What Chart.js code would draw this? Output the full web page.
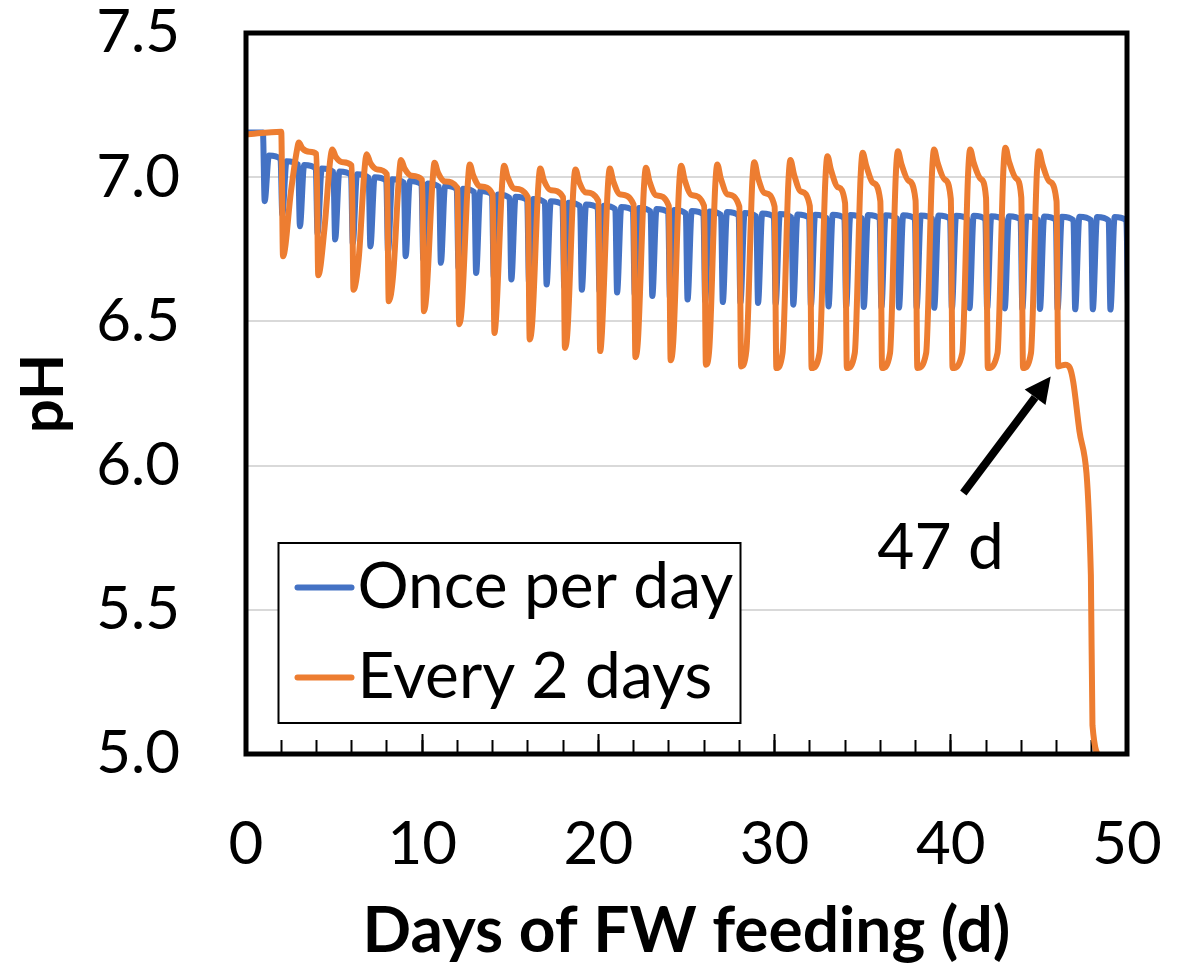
<!DOCTYPE html>
<html>
<head>
<meta charset="utf-8">
<script src="https://cdn.jsdelivr.net/npm/chart.js@4.4.0/dist/chart.umd.min.js"></script>
<style>
  html, body { margin: 0; padding: 0; background: #fff; }
  #wrap { width: 1186px; height: 970px; }
</style>
</head>
<body>
<div id="wrap"><canvas id="phChart" width="1186" height="970"></canvas></div>
<script>
// fed once per day: pH just before each feed, the dip after it, and the recovered top
const onceDays = [1, 2, 3, 4, 5, 6, 7, 8, 9, 10, 11, 12, 13, 14, 15, 16, 17, 18, 19, 20,
  21, 22, 23, 24, 25, 26, 27, 28, 29, 30, 31, 32, 33, 34, 35, 36, 37, 38, 39, 40,
  41, 42, 43, 44, 45, 46, 47, 48, 49, 50];
const oncePre = [7.155, 7.063, 7.043, 7.030, 7.018, 7.008, 6.998, 6.988, 6.981, 6.975,
  6.966, 6.958, 6.948, 6.940, 6.928, 6.920, 6.912, 6.905, 6.899, 6.893,
  6.889, 6.885, 6.881, 6.878, 6.874, 6.871, 6.869, 6.867, 6.864, 6.862,
  6.860, 6.859, 6.858, 6.858, 6.857, 6.857, 6.856, 6.856, 6.855, 6.855,
  6.854, 6.854, 6.853, 6.853, 6.852, 6.852, 6.851, 6.851, 6.850, 6.850];
const onceDip = [6.917, 6.870, 6.830, 6.805, 6.784, 6.770, 6.760, 6.742, 6.726, 6.715,
  6.703, 6.685, 6.668, 6.655, 6.645, 6.636, 6.628, 6.620, 6.610, 6.605,
  6.600, 6.594, 6.588, 6.582, 6.576, 6.571, 6.567, 6.565, 6.564, 6.561,
  6.558, 6.556, 6.552, 6.551, 6.550, 6.549, 6.548, 6.548, 6.547, 6.546,
  6.546, 6.545, 6.545, 6.544, 6.543, 6.543, 6.542, 6.542, 6.541, 6.550];
const onceTop = [7.075, 7.055, 7.042, 7.030, 7.020, 7.010, 7.000, 6.993, 6.987, 6.978,
  6.970, 6.960, 6.952, 6.940, 6.932, 6.924, 6.917, 6.911, 6.905, 6.901,
  6.897, 6.893, 6.890, 6.886, 6.883, 6.881, 6.879, 6.876, 6.874, 6.872,
  6.871, 6.870, 6.870, 6.869, 6.869, 6.868, 6.868, 6.867, 6.867, 6.866,
  6.866, 6.865, 6.865, 6.864, 6.864, 6.863, 6.863, 6.862, 6.862];

// fed every 2 days
const everyStart = 7.148;
const everyFeedDays = [2, 4, 6, 8, 10, 12, 14, 16, 18, 20, 22, 24, 26, 28, 30, 32, 34, 36, 38, 40, 42, 44, 46];
const everyPre = [7.158, 7.080, 7.040, 7.010, 6.990, 6.963, 6.940, 6.930, 6.930, 6.917, 6.905, 6.900,
  6.900, 6.898, 6.898, 6.900, 6.910, 6.917, 6.920, 6.925, 6.928, 6.930, 6.917];
const everyMin = [6.726, 6.660, 6.610, 6.570, 6.535, 6.490, 6.460, 6.437, 6.408, 6.397, 6.376, 6.365,
  6.350, 6.344, 6.338, 6.338, 6.338, 6.338, 6.338, 6.338, 6.338, 6.338, 6.344];
const everyPeakDay = [3.0, 4.9, 6.85, 8.8, 10.7, 12.7, 14.65, 16.7, 18.7, 20.65, 22.7, 24.7,
  26.75, 28.85, 30.9, 33.0, 35.0, 37.0, 39.05, 41.1, 43.1, 45.0];
// pH on the way up (0.45 d and 0.12 d before each peak)
const everyRiseLow = [6.950, 6.820, 6.720, 6.660, 6.600, 6.550, 6.520, 6.500, 6.470, 6.460, 6.440, 6.430,
  6.410, 6.400, 6.390, 6.390, 6.390, 6.390, 6.390, 6.390, 6.390, 6.390];
const everyRise = [7.090, 7.060, 7.030, 7.000, 6.980, 6.970, 6.970, 6.960, 6.960, 6.960, 6.960, 6.970,
  6.970, 6.980, 6.980, 6.990, 7.000, 7.010, 7.010, 7.010, 7.020, 7.010];
const everyPeak = [7.120, 7.096, 7.080, 7.060, 7.050, 7.044, 7.040, 7.030, 7.027, 7.030, 7.033, 7.040,
  7.044, 7.052, 7.060, 7.073, 7.085, 7.090, 7.096, 7.096, 7.102, 7.090];
// pH on the way down (0.2 d and 0.6 d after each peak)
const everyDecayA = [7.100, 7.070, 7.050, 7.030, 7.015, 7.005, 7.000, 6.990, 6.985, 6.985, 6.985, 6.990,
  6.995, 7.000, 7.010, 7.025, 7.040, 7.045, 7.050, 7.050, 7.055, 7.045];
const everyDecayB = [7.088, 7.052, 7.027, 7.005, 6.985, 6.968, 6.960, 6.955, 6.947, 6.940, 6.937, 6.938,
  6.940, 6.945, 6.950, 6.965, 6.980, 6.988, 6.992, 6.994, 6.996, 6.985];
// after the last feed the digester no longer recovers
const everyTailDays = [46.5, 46.75, 46.95, 47.3, 47.95, 48.04, 48.5];
const everyTailPH = [6.350, 6.340, 6.290, 6.120, 5.620, 5.100, 4.990];

const xTicksMajor = 10;
const xTicksMinor = 2;
const yTickStep = 0.5;

const noteText = '47 d';
const noteAt = [39.42, 5.712];
const arrowFrom = [40.71, 5.905];
const arrowTo = [45.67, 6.309];

const onceColor = '#4472C4';
const everyColor = '#ED7D31';
const fontFamily = 'Lato, "Open Sans", sans-serif';

// build the line points
const oncePoints = [{ x: 0, y: oncePre[0] }];
onceDays.forEach((d, i) => {
  oncePoints.push({ x: d - 0.04, y: oncePre[i] });
  oncePoints.push({ x: d + 0.06, y: onceDip[i] });
  if (i < onceTop.length) oncePoints.push({ x: d + 0.3, y: onceTop[i] });
});

const everyPoints = [{ x: 0, y: everyStart }];
everyFeedDays.forEach((d, i) => {
  everyPoints.push({ x: d, y: everyPre[i] });
  everyPoints.push({ x: d + 0.1, y: everyMin[i] });
  if (i < everyPeak.length) {
    const p = everyPeakDay[i];
    everyPoints.push({ x: p - 0.45, y: everyRiseLow[i] });
    everyPoints.push({ x: p - 0.12, y: everyRise[i] });
    everyPoints.push({ x: p, y: everyPeak[i] });
    everyPoints.push({ x: p + 0.2, y: everyDecayA[i] });
    everyPoints.push({ x: p + 0.6, y: everyDecayB[i] });
  }
});
everyTailDays.forEach((d, i) => everyPoints.push({ x: d, y: everyTailPH[i] }));

// black box round the plot area
const frame = {
  id: 'frame',
  afterDatasetsDraw(chart) {
    const { ctx, chartArea: a } = chart;
    ctx.save();
    ctx.lineWidth = 5;
    ctx.strokeStyle = '#000';
    ctx.strokeRect(a.left, a.top, a.right - a.left, a.bottom - a.top);
    ctx.restore();
  }
};

// arrow and day label at the failure point
const arrowNote = {
  id: 'arrowNote',
  afterDatasetsDraw(chart) {
    const { ctx, scales: { x, y } } = chart;
    const x0 = x.getPixelForValue(arrowFrom[0]), y0 = y.getPixelForValue(arrowFrom[1]);
    const x1 = x.getPixelForValue(arrowTo[0]), y1 = y.getPixelForValue(arrowTo[1]);
    const ang = Math.atan2(y1 - y0, x1 - x0);
    const headLen = 26, headHalf = 13;
    const bx = x1 - headLen * Math.cos(ang), by = y1 - headLen * Math.sin(ang);
    ctx.save();
    ctx.strokeStyle = '#000';
    ctx.fillStyle = '#000';
    ctx.lineWidth = 8;
    ctx.beginPath();
    ctx.moveTo(x0, y0);
    ctx.lineTo(bx, by);
    ctx.stroke();
    ctx.beginPath();
    ctx.moveTo(x1, y1);
    ctx.lineTo(bx + headHalf * Math.sin(ang), by - headHalf * Math.cos(ang));
    ctx.lineTo(bx - headHalf * Math.sin(ang), by + headHalf * Math.cos(ang));
    ctx.closePath();
    ctx.fill();
    ctx.font = '64px ' + fontFamily;
    ctx.textAlign = 'center';
    ctx.textBaseline = 'middle';
    ctx.fillText(noteText, x.getPixelForValue(noteAt[0]), y.getPixelForValue(noteAt[1]));
    ctx.restore();
  }
};

// boxed legend sitting in the lower left of the plot
const boxLegend = {
  id: 'boxLegend',
  afterDraw(chart) {
    const { ctx, chartArea: a } = chart;
    const left = a.left + 32.5, top = a.bottom - 211, w = 462, h = 180;
    ctx.save();
    ctx.fillStyle = '#fff';
    ctx.fillRect(left, top, w, h);
    ctx.lineWidth = 2;
    ctx.strokeStyle = '#000';
    ctx.strokeRect(left, top, w, h);
    ctx.font = '64px ' + fontFamily;
    ctx.textBaseline = 'middle';
    ctx.textAlign = 'left';
    chart.data.datasets.forEach((ds, i) => {
      const ly = top + 44.5 + i * 90;
      ctx.strokeStyle = ds.borderColor;
      ctx.lineWidth = 6;
      ctx.lineCap = 'round';
      ctx.beginPath();
      ctx.moveTo(left + 19, ly);
      ctx.lineTo(left + 73, ly);
      ctx.stroke();
      ctx.fillStyle = '#000';
      ctx.fillText(ds.label, left + 79, ly);
    });
    ctx.restore();
  }
};

const lineStyle = {
  borderWidth: 6,
  pointRadius: 0,
  fill: false,
  cubicInterpolationMode: 'monotone',
  borderJoinStyle: 'round',
  borderCapStyle: 'round',
  xAxisID: 'x',
  yAxisID: 'y'
};

// keep the plot box fixed: no extra room for half-labels at the ends
function fixHorizontal(h) {
  return scale => {
    scale.height = h;
    scale.paddingLeft = 0;
    scale.paddingRight = 0;
  };
}

const ctx = document.getElementById('phChart').getContext('2d');
const phChart = new Chart(ctx, {
  type: 'line',
  data: {
    datasets: [
      Object.assign({ label: 'Once per day', data: oncePoints, borderColor: onceColor, order: 2 }, lineStyle),
      Object.assign({ label: 'Every 2 days', data: everyPoints, borderColor: everyColor, order: 1 }, lineStyle)
    ]
  },
  options: {
    responsive: false,
    animation: false,
    layout: { padding: { top: 33, right: 59, left: 0, bottom: 0 } },
    plugins: { legend: { display: false }, tooltip: { enabled: false } },
    scales: {
      x: {
        type: 'linear',
        position: 'bottom',
        weight: 1,
        min: 0,
        max: 50,
        ticks: { stepSize: xTicksMajor, color: '#000', padding: 75, maxRotation: 0,
          font: { family: fontFamily, size: 60 } },
        grid: { drawOnChartArea: false, drawTicks: true, tickLength: -20, tickWidth: 2, tickColor: '#000' },
        border: { display: false },
        title: { display: true, text: 'Days of FW feeding (d)', color: '#000',
          font: { family: fontFamily, size: 64, weight: 'bold' }, padding: { top: 0, bottom: 0 } },
        afterFit: fixHorizontal(216)
      },
      xMinor: {
        type: 'linear',
        position: 'bottom',
        weight: 0,
        min: 0,
        max: 50,
        ticks: { stepSize: xTicksMinor, display: false },
        grid: { drawOnChartArea: false, drawTicks: true, tickLength: -14, tickWidth: 2, tickColor: '#000' },
        border: { display: false },
        afterFit: fixHorizontal(0)
      },
      y: {
        type: 'linear',
        min: 5,
        max: 7.5,
        ticks: { stepSize: yTickStep, color: '#000', padding: 66,
          font: { family: fontFamily, size: 60 },
          callback: v => v.toFixed(1) },
        grid: { color: '#d9d9d9', lineWidth: 2, drawTicks: false },
        border: { display: false },
        title: { display: true, text: 'pH', color: '#000',
          font: { family: fontFamily, size: 60, weight: 'bold' }, padding: { top: 8, bottom: 0 } },
        afterFit(scale) {
          scale.width = 246;
          scale.paddingTop = 0;
          scale.paddingBottom = 0;
        }
      }
    }
  },
  plugins: [frame, arrowNote, boxLegend]
});
</script>
</body>
</html>
